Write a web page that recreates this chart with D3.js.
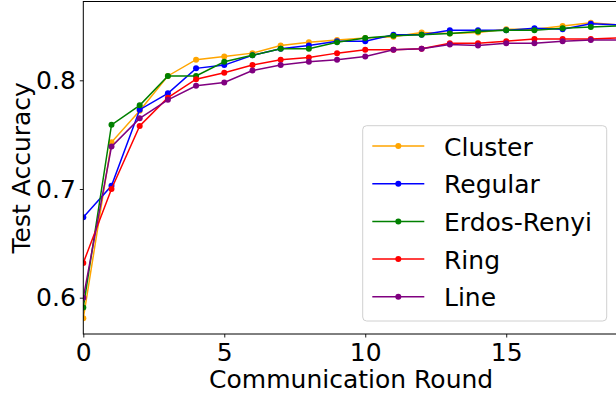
<!DOCTYPE html>
<html>
<head>
<meta charset="utf-8">
<script src="https://cdn.jsdelivr.net/npm/d3@7"></script>
<style>
  html, body { margin: 0; padding: 0; background: #fff; }
  svg { display: block; }
  text { font-family: "DejaVu Sans", sans-serif; fill: #000; }
</style>
</head>
<body>
<svg id="chart" width="616" height="394"></svg>
<script>
const rounds = d3.range(0, 20);
const seriesNames = ["Cluster", "Regular", "Erdos-Renyi", "Ring", "Line"];
const cluster = [0.581, 0.743, 0.772, 0.804, 0.819, 0.822, 0.825, 0.832, 0.835, 0.837, 0.839, 0.840, 0.844, 0.843, 0.844, 0.847, 0.847, 0.850, 0.853, 0.851];
const regular = [0.674, 0.703, 0.773, 0.788, 0.811, 0.814, 0.823, 0.829, 0.832, 0.836, 0.836, 0.842, 0.842, 0.846, 0.846, 0.846, 0.848, 0.847, 0.852, 0.851];
const erdosRenyi = [0.591, 0.759, 0.777, 0.804, 0.804, 0.817, 0.823, 0.829, 0.829, 0.835, 0.839, 0.841, 0.842, 0.843, 0.845, 0.846, 0.846, 0.848, 0.849, 0.850];
const ring = [0.632, 0.700, 0.758, 0.784, 0.801, 0.807, 0.814, 0.819, 0.821, 0.825, 0.828, 0.828, 0.829, 0.834, 0.834, 0.836, 0.838, 0.838, 0.838, 0.839];
const line = [0.600, 0.739, 0.765, 0.782, 0.795, 0.798, 0.809, 0.814, 0.817, 0.819, 0.822, 0.828, 0.829, 0.833, 0.832, 0.834, 0.834, 0.836, 0.837, 0.837];
const xTicks = [0, 5, 10, 15];
const yTicks = [0.6, 0.7, 0.8];
const colors = ["#FFA500", "#0000FF", "#008000", "#FF0000", "#800080"];

const allValues = [cluster, regular, erdosRenyi, ring, line];

const pLeft = 83.3, pRight = 619, pTop = 1.5, pBottom = 334;
const svg = d3.select("#chart");

const x = d3.scaleLinear().domain([0, 19]).range([pLeft, pRight]);
const y = d3.scaleLinear().domain([0.5666, 0.8725]).range([pBottom, pTop]);

svg.append("defs").append("clipPath").attr("id", "plotclip")
  .append("rect").attr("x", pLeft).attr("y", pTop).attr("width", pRight - pLeft).attr("height", pBottom - pTop);

const plot = svg.append("g").attr("clip-path", "url(#plotclip)");
const lineGen = d3.line().x((d, i) => x(rounds[i])).y(d => y(d));

allValues.forEach((vals, si) => {
  plot.append("path").datum(vals)
    .attr("d", lineGen)
    .attr("fill", "none")
    .attr("stroke", colors[si])
    .attr("stroke-width", 1.5);
  plot.selectAll(null).data(vals).enter().append("circle")
    .attr("cx", (d, i) => x(rounds[i]))
    .attr("cy", d => y(d))
    .attr("r", 3)
    .attr("fill", colors[si]);
});

// Axes
const xAxis = d3.axisBottom(x).tickValues(xTicks).tickSize(3.5).tickPadding(6).tickFormat(d3.format("d"));
const gx = svg.append("g").attr("transform", `translate(0,${pBottom})`).call(xAxis);
gx.select(".domain").remove();
gx.selectAll(".tick line").attr("stroke", "#000").attr("stroke-width", 0.9);
gx.selectAll(".tick text").attr("font-size", 25).attr("font-family", "DejaVu Sans").attr("fill", "#000");

const yAxis = d3.axisLeft(y).tickValues(yTicks).tickSize(3.5).tickPadding(4).tickFormat(d3.format(".1f"));
const gy = svg.append("g").attr("transform", `translate(${pLeft},0)`).call(yAxis);
gy.select(".domain").remove();
gy.selectAll(".tick line").attr("stroke", "#000").attr("stroke-width", 0.9);
gy.selectAll(".tick text").attr("font-size", 25).attr("font-family", "DejaVu Sans").attr("fill", "#000");

// Spines
svg.append("rect").attr("x", pLeft).attr("y", pTop).attr("width", pRight - pLeft).attr("height", pBottom - pTop)
  .attr("fill", "none").attr("stroke", "#000").attr("stroke-width", 1);

// Axis labels
svg.append("text").attr("x", (pLeft + pRight) / 2).attr("y", 388)
  .attr("text-anchor", "middle").attr("font-size", 25).text("Communication Round");
svg.append("text").attr("transform", `translate(30,${(pTop + pBottom) / 2}) rotate(-90)`)
  .attr("text-anchor", "middle").attr("font-size", 25).text("Test Accuracy");

// Legend
const lg = svg.append("g");
lg.append("rect").attr("x", 362.7).attr("y", 125.7).attr("width", 244).attr("height", 195.3)
  .attr("rx", 4).attr("fill", "#fff").attr("fill-opacity", 0.8)
  .attr("stroke", "#d0d0d0").attr("stroke-width", 1);
seriesNames.forEach((name, i) => {
  const cy = 146 + i * 37.7;
  lg.append("line").attr("x1", 372.3).attr("x2", 424.3).attr("y1", cy).attr("y2", cy)
    .attr("stroke", colors[i]).attr("stroke-width", 1.5);
  lg.append("circle").attr("cx", 398.3).attr("cy", cy).attr("r", 3).attr("fill", colors[i]);
  lg.append("text").attr("x", 444).attr("y", cy + 9.5).attr("font-size", 25).text(name);
});
</script>
</body>
</html>
